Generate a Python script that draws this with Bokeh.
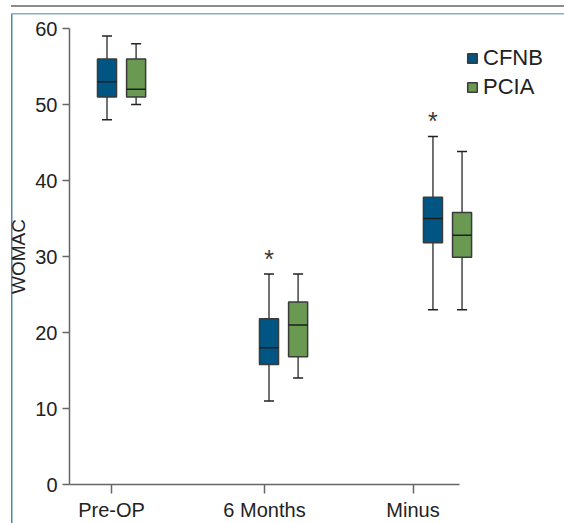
from bokeh.plotting import figure
from bokeh.models import Range1d, FixedTicker, Legend, LegendItem
from bokeh.core.properties import value
from bokeh.embed import file_html
from bokeh.resources import INLINE

# ---- data ----
categories = ["Pre-OP", "6 Months", "Minus"]
series = ["CFNB", "PCIA"]
colors = ["#005582", "#6a9a52"]

cfnb_low = [48, 11, 23]
cfnb_q1 = [51, 15.8, 31.8]
cfnb_med = [53, 18, 35]
cfnb_q3 = [56, 21.8, 37.8]
cfnb_high = [59, 27.7, 45.8]

pcia_low = [50, 14, 23]
pcia_q1 = [51, 16.8, 29.9]
pcia_med = [52, 21, 32.8]
pcia_q3 = [56, 24, 35.8]
pcia_high = [58, 27.7, 43.8]

star_cats = [False, True, True]
y_ticks = [0, 10, 20, 30, 40, 50, 60]

# ---- layout (positions) ----
tick_pos = [0.28, 1.30, 2.29]
group_pos = [0.347, 1.427, 2.52]
dodge = 0.097
box_w = 0.127
cap_w = 0.067

FONT = "Liberation Sans"

frame_css = {
    "background-color": "white",
    "background-image": ("linear-gradient(#8c8c8c,#8c8c8c), "
                         "linear-gradient(#86adc9,#86adc9), "
                         "linear-gradient(#4f87b0,#4f87b0)"),
    "background-position": "11px 5px, 11px 12.5px, 11px 12.5px",
    "background-size": "calc(100% - 11px) 2px, calc(100% - 11px) 1.5px, 1.5px calc(100% - 12.5px)",
    "background-repeat": "no-repeat",
}

p = figure(width=564, height=523, output_backend="svg", toolbar_location=None,
           x_range=Range1d(0, 3.3), y_range=Range1d(0, 60),
           min_border_left=69, min_border_right=0, min_border_top=28, min_border_bottom=39,
           styles=frame_css)
p.outline_line_color = None
p.grid.visible = False
p.background_fill_color = "white"
p.border_fill_alpha = 0

series_data = [
    (cfnb_low, cfnb_q1, cfnb_med, cfnb_q3, cfnb_high),
    (pcia_low, pcia_q1, pcia_med, pcia_q3, pcia_high),
]
items = []
for si, (lo, q1, med, q3, hi) in enumerate(series_data):
    xs = [g + (2 * si - 1) * dodge for g in group_pos]
    # whisker stems
    p.segment(x0=xs, y0=hi, x1=xs, y1=q3, line_color="#444444", line_width=1.5)
    p.segment(x0=xs, y0=lo, x1=xs, y1=q1, line_color="#444444", line_width=1.5)
    # caps
    p.segment(x0=[x - cap_w / 2 for x in xs], y0=hi, x1=[x + cap_w / 2 for x in xs], y1=hi,
              line_color="#222222", line_width=1.5)
    p.segment(x0=[x - cap_w / 2 for x in xs], y0=lo, x1=[x + cap_w / 2 for x in xs], y1=lo,
              line_color="#222222", line_width=1.5)
    r = p.vbar(x=xs, width=box_w, bottom=q1, top=q3, fill_color=colors[si],
               line_color="#3a3a3a", line_width=1.5)
    p.segment(x0=[x - box_w / 2 for x in xs], y0=med, x1=[x + box_w / 2 for x in xs], y1=med,
              line_color="#1e1e1e", line_width=1.5)
    items.append(LegendItem(label=series[si], renderers=[r]))

# significance stars
sx = [g - dodge for g, s in zip(group_pos, star_cats) if s]
sy = [h + 2.0 for h, s in zip(cfnb_high, star_cats) if s]
p.text(x=sx, y=sy, text=["*"] * len(sx), text_align="center", text_baseline="middle",
       text_font=value(FONT), text_font_size="25px", text_color="#3a3a3a")

legend = Legend(items=items, location=(397, 384), orientation="vertical",
                glyph_width=12, glyph_height=12, label_height=20, spacing=3,
                label_standoff=5, padding=0, margin=0,
                label_text_font=FONT, label_text_font_size="22px", label_text_color="#222222",
                border_line_color=None, background_fill_alpha=0)
p.add_layout(legend)

# axes
xa = p.xaxis[0]
xa.ticker = FixedTicker(ticks=tick_pos)
xa.major_label_overrides = {t: c for t, c in zip(tick_pos, categories)}
xa.bounds = (0, 2.6)
ya = p.yaxis[0]
ya.ticker = FixedTicker(ticks=y_ticks)
ya.axis_label = "WOMAC"
for ax in (xa, ya):
    ax.axis_line_color = "#666666"
    ax.axis_line_width = 1.5
    ax.major_tick_line_color = "#666666"
    ax.major_tick_line_width = 1.5
    ax.minor_tick_line_color = None
    ax.major_tick_in = 0
    ax.major_label_text_font = FONT
    ax.major_label_text_font_size = "20px"
    ax.major_label_text_color = "#222222"
xa.major_tick_out = 9
xa.major_label_standoff = 5
ya.major_tick_out = 7
ya.major_label_standoff = 5
ya.axis_label_text_font = FONT
ya.axis_label_text_font_size = "19px"
ya.axis_label_text_font_style = "normal"
ya.axis_label_text_color = "#222222"
ya.axis_label_standoff = 3

open("out.html", "w").write(file_html(p, INLINE))
